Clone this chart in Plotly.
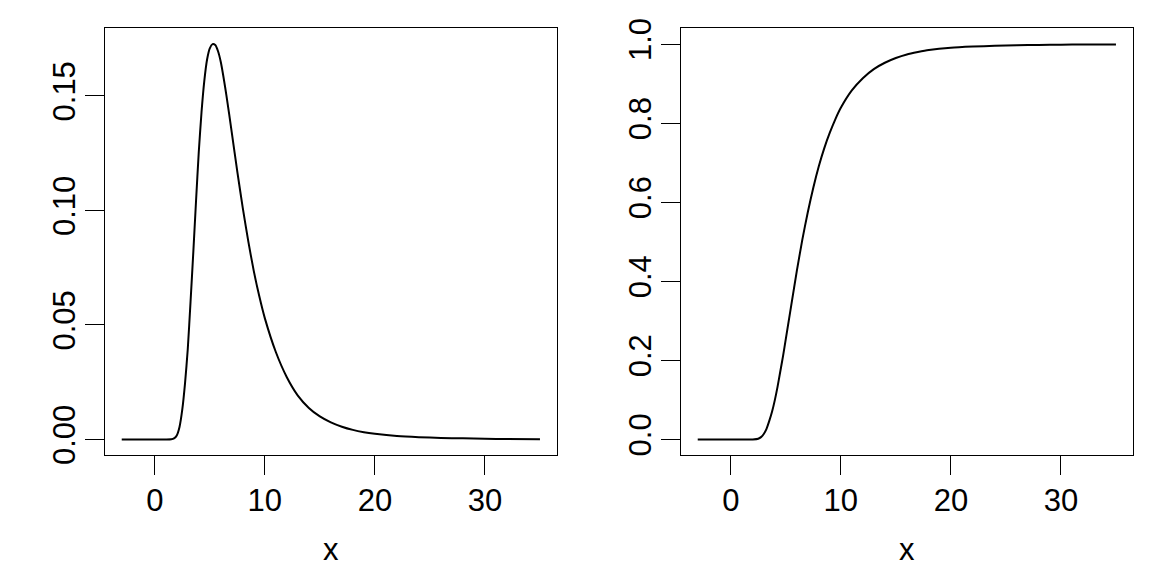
import plotly.graph_objects as go

# Density panel
dens_x = [-3, -1, 0, 1.0, 1.5, 1.75, 2.0, 2.25, 2.5, 2.75, 3.0, 3.25, 3.5, 3.75, 4.0, 4.25,
          4.5, 4.75, 5.0, 5.25, 5.5, 5.75, 6.0, 6.5, 7.0, 7.5, 8.0, 8.5, 9.0, 9.5, 10.0,
          11.0, 12.0, 13.0, 14.0, 15.0, 16.0, 17.0, 18.0, 19.0, 20.0, 22.0, 24.0, 26.0,
          28.0, 30.0, 32.0, 35.0]
dens_y = [0, 0, 0, 0, 0.0001, 0.0005, 0.0018, 0.0055, 0.0130, 0.0245, 0.0395, 0.0600,
          0.0815, 0.1040, 0.1255, 0.1430, 0.1565, 0.1658, 0.1708, 0.1726, 0.1722, 0.1695,
          0.1648, 0.1506, 0.1340, 0.1170, 0.1010, 0.0865, 0.0735, 0.0625, 0.0530, 0.0382,
          0.0272, 0.0192, 0.0138, 0.0101, 0.0075, 0.0056, 0.0042, 0.0032, 0.0025, 0.0015,
          0.0010, 0.0007, 0.0005, 0.0003, 0.0002, 0.0001]

# Cumulative panel
cdf_x = [-3, 0, 1.5, 2.0, 2.5, 2.75, 3.0, 3.25, 3.5, 3.75, 4.0, 4.25, 4.5, 4.75, 5.0, 5.25,
         5.5, 6.0, 6.5, 7.0, 7.5, 8.0, 8.5, 9.0, 9.5, 10.0, 11.0, 12.0, 13.0, 14.0, 15.0,
         16.0, 17.0, 18.0, 20.0, 22.0, 24.0, 26.0, 28.0, 30.0, 32.0, 35.0]
cdf_y = [0, 0, 0, 0.0003, 0.002, 0.006, 0.014, 0.027, 0.047, 0.070, 0.099, 0.133, 0.172,
         0.211, 0.254, 0.297, 0.340, 0.426, 0.505, 0.575, 0.637, 0.691, 0.737, 0.776, 0.810,
         0.839, 0.883, 0.914, 0.937, 0.953, 0.965, 0.974, 0.980, 0.985, 0.991, 0.994, 0.996,
         0.9973, 0.9982, 0.9988, 0.9992, 0.9995]

x_ticks = [0, 10, 20, 30]
dens_ticks = [0, 0.05, 0.10, 0.15]
dens_ticktext = ["0.00", "0.05", "0.10", "0.15"]
cdf_ticks = [0, 0.2, 0.4, 0.6, 0.8, 1.0]
cdf_ticktext = ["0.0", "0.2", "0.4", "0.6", "0.8", "1.0"]
x_title = "x"

FONT = "Liberation Sans, Arial, Helvetica, sans-serif"
FS = 31
W, H = 1152, 576

fig = go.Figure()
fig.add_trace(go.Scatter(x=dens_x, y=dens_y, mode="lines", xaxis="x", yaxis="y",
                         line=dict(color="black", width=2, shape="spline", smoothing=0.6),
                         showlegend=False, hoverinfo="skip"))
fig.add_trace(go.Scatter(x=cdf_x, y=cdf_y, mode="lines", xaxis="x2", yaxis="y2",
                         line=dict(color="black", width=2, shape="spline", smoothing=0.6),
                         showlegend=False, hoverinfo="skip"))

left_dom = [105 / W, 556.7 / W]
right_dom = [681 / W, 1132.7 / W]
y_dom = [1 - 460.5 / H, 1 - 19 / H]

common_x = dict(range=[-4.52, 36.52], tickvals=x_ticks, ticks="outside", ticklen=19,
                tickwidth=1.2, tickcolor="black", showline=True, linecolor="black",
                linewidth=1.3, mirror=True, showgrid=False, zeroline=False,
                ticklabelstandoff=-2,
                tickfont=dict(family=FONT, size=FS, color="black"), fixedrange=True)
common_y = dict(ticks="outside", ticklen=19, tickwidth=1.2, tickcolor="black",
                showline=True, linecolor="black", linewidth=1.3, mirror=True,
                showgrid=False, zeroline=False, tickangle=-90, ticklabelstandoff=-3,
                tickfont=dict(family=FONT, size=FS, color="black"), fixedrange=True)

fig.update_layout(
    width=W, height=H, autosize=False,
    margin=dict(l=0, r=0, t=0, b=0),
    paper_bgcolor="white", plot_bgcolor="white",
    xaxis=dict(domain=left_dom, anchor="y", **common_x),
    yaxis=dict(domain=y_dom, anchor="x", range=[-0.0069, 0.1795],
               tickvals=dens_ticks, ticktext=dens_ticktext, **common_y),
    xaxis2=dict(domain=right_dom, anchor="y2", **common_x),
    yaxis2=dict(domain=y_dom, anchor="x2", range=[-0.04, 1.04],
                tickvals=cdf_ticks, ticktext=cdf_ticktext, **common_y),
    annotations=[
        dict(text=x_title, xref="paper", yref="paper", x=sum(left_dom) / 2, y=(H - 558) / H,
             xanchor="center", yanchor="middle", showarrow=False,
             font=dict(family=FONT, size=FS, color="black")),
        dict(text=x_title, xref="paper", yref="paper", x=sum(right_dom) / 2, y=(H - 558) / H,
             xanchor="center", yanchor="middle", showarrow=False,
             font=dict(family=FONT, size=FS, color="black")),
    ],
)

post = (
    "var s=document.createElement('style');"
    "s.textContent='html,body{margin:0!important;padding:0!important;overflow:hidden!important;"
    "width:1152px;height:576px;}';"
    "document.head.appendChild(s);"
    "var g=document.getElementById('{plot_id}');"
    "g.style.position='absolute';g.style.left='0px';g.style.top='0px';"
)

fig.write_html("out.html", config={"displayModeBar": False}, post_script=post)
